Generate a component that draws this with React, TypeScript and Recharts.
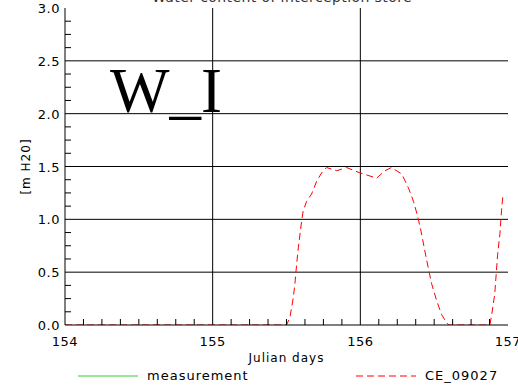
import React from "react";
import {
  LineChart,
  Line,
  XAxis,
  YAxis,
  CartesianGrid,
  Legend,
} from "recharts";

// Julian day and modelled interception store (CE_09027)
const days = [
  154, 155.5, 155.523, 155.546, 155.557, 155.569, 155.58, 155.602, 155.613,
  155.636, 155.67, 155.704, 155.738, 155.772, 155.84, 155.907, 155.997, 156.11,
  156.167, 156.21, 156.28, 156.325, 156.36, 156.39, 156.415, 156.437, 156.46,
  156.483, 156.517, 156.55, 156.584, 156.6, 156.877, 156.89, 156.91, 156.92,
  156.93, 156.945, 156.956, 156.965,
];
const ce09027 = [
  0, 0, 0.07, 0.26, 0.39, 0.58, 0.73, 0.98, 1.08, 1.17, 1.24, 1.36, 1.44, 1.49,
  1.46, 1.49, 1.44, 1.39, 1.46, 1.49, 1.43, 1.3, 1.17, 1.02, 0.86, 0.7, 0.54,
  0.39, 0.23, 0.1, 0.02, 0, 0, 0.1, 0.29, 0.48, 0.67, 0.86, 1.08, 1.22,
];
// measurement series has no values in this window
const measurement: Array<{ day: number; value: number }> = [];

const xMajor = [154, 155, 156, 157];
const yMajor = [0, 0.5, 1.0, 1.5, 2.0, 2.5, 3.0];
const xMinorStep = 0.125;
const yMinorStep = 0.125;

const xTicks: number[] = [];
for (let v = 154; v <= 157 + 1e-9; v += xMinorStep) xTicks.push(+v.toFixed(3));
const yTicks: number[] = [];
for (let v = 0; v <= 3 + 1e-9; v += yMinorStep) yTicks.push(+v.toFixed(3));

const rows = days.map((day, i) => ({ day, ce: ce09027[i] }));

const FONT = "DejaVu Sans, sans-serif";
const TICK = 6;

const isMajorX = (v: number) => xMajor.includes(v);
const isMajorY = (v: number) => yMajor.some((m) => Math.abs(m - v) < 1e-6);

function BottomTick({ x, y, payload }: any) {
  const v = payload.value;
  return (
    <g>
      {!isMajorX(v) && <line x1={x} x2={x} y1={y} y2={y - TICK} stroke="#000" />}
      {isMajorX(v) && (
        <text x={x} y={y + 21} textAnchor="middle" fontFamily={FONT} fontSize={13} fill="#000" letterSpacing={0.5}>
          {v}
        </text>
      )}
    </g>
  );
}

function TopTick({ x, y, payload }: any) {
  if (isMajorX(payload.value)) return <g />;
  return <line x1={x} x2={x} y1={y} y2={y + TICK} stroke="#000" />;
}

function LeftTick({ x, y, payload }: any) {
  const v = payload.value;
  return (
    <g>
      {!isMajorY(v) && <line x1={x} x2={x + TICK} y1={y} y2={y} stroke="#000" />}
      {isMajorY(v) && (
        <text x={x - 5} y={y + 5} textAnchor="end" fontFamily={FONT} fontSize={13} fill="#000" letterSpacing={0.5}>
          {v.toFixed(1)}
        </text>
      )}
    </g>
  );
}

function RightTick({ x, y, payload }: any) {
  if (isMajorY(payload.value)) return <g />;
  return <line x1={x} x2={x - TICK} y1={y} y2={y} stroke="#000" />;
}

function LegendBox({ payload }: any) {
  const items = (payload || []).filter((p: any) => p.value);
  const pos: Record<string, number> = { measurement: 78, CE_09027: 356 };
  return (
    <svg width={518} height={19} style={{ display: "block" }}>
      {items.map((p: any) => {
        const x0 = pos[p.value] ?? 0;
        return (
          <g key={p.value}>
            <line
              x1={x0}
              x2={x0 + 60}
              y1={10}
              y2={10}
              stroke={p.color}
              strokeWidth={1}
              strokeDasharray={p.payload?.strokeDasharray}
            />
            <text x={x0 + 69} y={14} fontFamily={FONT} fontSize={13} fill="#000" letterSpacing={1}>
              {p.value}
            </text>
          </g>
        );
      })}
    </svg>
  );
}

export default function App() {
  return (
    <div style={{ position: "absolute", left: 0, top: 0, width: 518, height: 385, background: "#fff" }}>
      <LineChart
        width={518}
        height={385}
        data={rows}
        margin={{ top: 8, right: 10, bottom: 1, left: 0 }}
      >
        <CartesianGrid
          stroke="#000"
          strokeWidth={1}
          horizontalValues={[0.5, 1.0, 1.5, 2.0, 2.5]}
          verticalValues={[155, 156]}
        />
        <XAxis
          dataKey="day"
          type="number"
          domain={[154, 157]}
          ticks={xTicks}
          interval={0}
          tickSize={0}
          tickMargin={0}
          tickLine={false}
          tick={<BottomTick />}
          height={40}
          axisLine={{ stroke: "#000" }}
          allowDataOverflow
          label={(props: any) => {
            const vb = props.viewBox || {};
            return (
              <text
                x={vb.x + vb.width / 2}
                y={vb.y + 37}
                textAnchor="middle"
                fontFamily={FONT}
                fontSize={12}
                fill="#000"
                letterSpacing={1}
              >
                Julian days
              </text>
            );
          }}
        />
        <XAxis
          xAxisId="top"
          orientation="top"
          dataKey="day"
          type="number"
          domain={[154, 157]}
          ticks={xTicks}
          interval={0}
          tickSize={0}
          tickMargin={0}
          tickLine={false}
          tick={<TopTick />}
          height={0}
          axisLine={{ stroke: "#000" }}
          allowDataOverflow
        />
        <YAxis
          type="number"
          domain={[0, 3]}
          ticks={yTicks}
          interval={0}
          tickSize={0}
          tickMargin={0}
          tickLine={false}
          tick={<LeftTick />}
          width={65}
          axisLine={{ stroke: "#000" }}
          allowDataOverflow
          label={(props: any) => {
            const vb = props.viewBox || {};
            const cy = vb.y + vb.height / 2;
            return (
              <text
                x={30}
                y={cy}
                transform={`rotate(-90, 30, ${cy})`}
                textAnchor="middle"
                fontFamily={FONT}
                fontSize={12}
                fill="#000"
                letterSpacing={1}
              >
                [m H20]
              </text>
            );
          }}
        />
        <YAxis
          yAxisId="right"
          orientation="right"
          type="number"
          domain={[0, 3]}
          ticks={yTicks}
          interval={0}
          tickSize={0}
          tickMargin={0}
          tickLine={false}
          tick={<RightTick />}
          width={0}
          axisLine={{ stroke: "#000" }}
          allowDataOverflow
        />
        <Legend
          verticalAlign="bottom"
          content={<LegendBox />}
          wrapperStyle={{ position: "absolute", left: 0, top: 366, width: 518, height: 19 }}
        />
        <Line
          data={measurement}
          dataKey="value"
          name="measurement"
          stroke="#33cc33"
          dot={false}
          isAnimationActive={false}
        />
        <Line
          dataKey="ce"
          name="CE_09027"
          type="linear"
          stroke="#ff0000"
          strokeWidth={1}
          strokeDasharray="7 4"
          dot={false}
          isAnimationActive={false}
        />
      </LineChart>
      <svg
        width={518}
        height={385}
        style={{ position: "absolute", left: 0, top: 0, pointerEvents: "none" }}
      >
        <text x={282} y={2} textAnchor="middle" fontFamily={FONT} fontSize={14} fill="#333" letterSpacing={0.4}>
          Water content of interception store
        </text>
        <text x={110} y={112} fontFamily="Liberation Serif, serif" fontSize={63} fill="#000">
          W_I
        </text>
      </svg>
    </div>
  );
}
